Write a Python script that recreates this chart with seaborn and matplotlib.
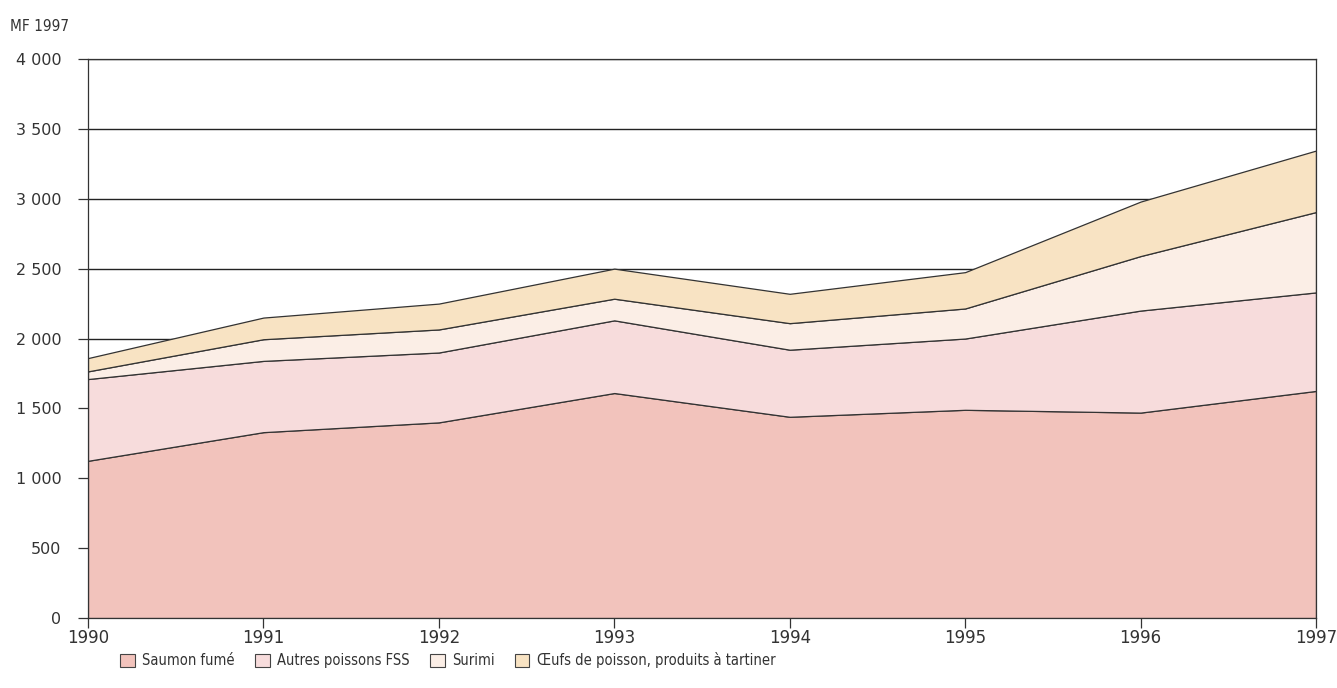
import numpy as np
import pandas as pd
import matplotlib
matplotlib.use("Agg")
import matplotlib.pyplot as plt
import seaborn as sns
from matplotlib.patches import Patch

years = [1990, 1991, 1992, 1993, 1994, 1995, 1996, 1997]
saumon = [1125, 1330, 1400, 1610, 1440, 1490, 1470, 1625]
autres = [585, 510, 500, 520, 480, 510, 730, 705]
surimi = [55, 155, 165, 155, 190, 215, 390, 575]
oeufs = [95, 155, 185, 215, 210, 260, 390, 440]

labels = ["Saumon fumé", "Autres poissons FSS", "Surimi",
          "Œufs de poisson, produits à tartiner"]
colors = ["#f2c3bc", "#f7dcdc", "#fbeee6", "#f8e3c3"]
yticks = [0, 500, 1000, 1500, 2000, 2500, 3000, 3500, 4000]

df = pd.DataFrame({"annee": years, labels[0]: saumon, labels[1]: autres,
                   labels[2]: surimi, labels[3]: oeufs})

sns.set_theme(style="white")
plt.rcParams["font.family"] = ["DejaVu Sans"]

fig = plt.figure(figsize=(13.37, 6.88), dpi=100)
ax = fig.add_axes([0.0658, 0.1017, 0.9185, 0.8125])

# grid first, so the areas cover it
for v in yticks:
    ax.axhline(v, color="#222222", lw=1.0, zorder=0)

ax.stackplot(df["annee"], [df[c] for c in labels], colors=colors,
             edgecolor="#333333", linewidth=0.9, zorder=2)

ax.set_xlim(1990, 1997)
ax.set_ylim(0, 4000)
ax.set_xticks(years)
ax.set_xticklabels([str(y) for y in years], fontsize=12, color="#333333")
ax.set_yticks(yticks)
ax.set_yticklabels([f"{v:,}".replace(",", " ") for v in yticks],
                   fontsize=11.5, color="#333333")
ax.tick_params(axis="both", which="both", length=7, width=0.9,
               color="#333333", direction="out", left=True, bottom=True)
ax.tick_params(axis="y", pad=12)
ax.tick_params(axis="x", pad=1)

for s in ["left", "right", "bottom", "top"]:
    ax.spines[s].set_color("#333333")
    ax.spines[s].set_linewidth(0.9)
ax.spines["left"].set_zorder(3)
ax.spines["right"].set_zorder(3)

ax.set_xlabel("")
ax.set_ylabel("")
fig.text(0.0075, 0.962, "MF 1997", fontsize=11, color="#333333",
         ha="left", va="center", fontstretch="condensed")

handles = [Patch(facecolor=c, edgecolor="#444444", linewidth=0.8) for c in colors]
fig.legend(handles, labels, loc="center left", bbox_to_anchor=(0.08, 0.04),
           ncol=4, frameon=False, handlelength=1.0,
           handleheight=1.0, handletextpad=0.5, columnspacing=1.4,
           labelcolor="#333333",
           prop={"family": "DejaVu Sans", "stretch": "condensed", "size": 10.5})

fig.savefig("out.png", dpi=100)
